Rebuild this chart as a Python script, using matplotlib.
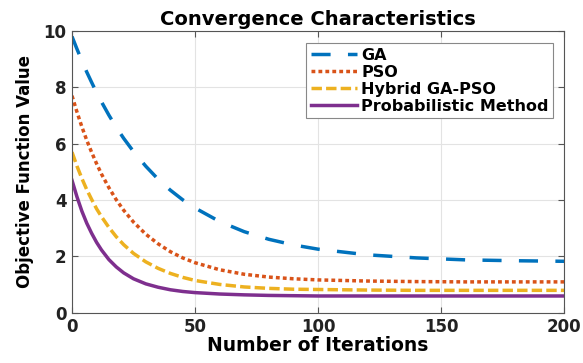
import matplotlib
matplotlib.use('Agg')
import matplotlib.pyplot as plt

plt.rcParams['font.family'] = ['DejaVu Sans']
plt.rcParams['font.weight'] = 'bold'

# Values
iterations = [0, 2, 4, 6, 8, 10, 12, 15, 18, 21, 25, 30, 35, 40, 45, 50,
              60, 70, 80, 90, 100, 120, 140, 160, 180, 200]
ga = [9.80, 9.36, 8.94, 8.54, 8.17, 7.81, 7.48, 7.01, 6.58, 6.19, 5.72, 5.20,
      4.74, 4.35, 4.01, 3.72, 3.24, 2.88, 2.61, 2.41, 2.26, 2.06, 1.95, 1.88,
      1.85, 1.83]
pso = [7.70, 7.13, 6.60, 6.12, 5.69, 5.29, 4.92, 4.44, 4.01, 3.64, 3.22, 2.79,
       2.45, 2.17, 1.95, 1.78, 1.53, 1.37, 1.27, 1.21, 1.17, 1.13, 1.11, 1.10,
       1.10, 1.10]
hybrid = [5.70, 5.21, 4.77, 4.37, 4.02, 3.69, 3.41, 3.03, 2.70, 2.42, 2.11,
          1.81, 1.58, 1.40, 1.26, 1.15, 1.01, 0.92, 0.87, 0.84, 0.83, 0.81,
          0.80, 0.80, 0.80, 0.80]
prob = [4.70, 4.12, 3.61, 3.18, 2.82, 2.50, 2.23, 1.89, 1.63, 1.42, 1.21,
        1.03, 0.91, 0.82, 0.76, 0.72, 0.67, 0.64, 0.62, 0.61, 0.60, 0.60,
        0.60, 0.60, 0.60, 0.60]
labels = ['GA', 'PSO', 'Hybrid GA-PSO', 'Probabilistic Method']

fig = plt.figure(figsize=(5.83, 3.63), dpi=100)
ax = fig.add_axes([0.1235, 0.138, 0.844, 0.777])

lw = 2.5
ax.plot(iterations, ga, color='#0072BD', lw=lw, dashes=(5.5, 5), label=labels[0])
ax.plot(iterations, pso, color='#D95319', lw=lw, dashes=(1.1, 0.9), label=labels[1])
ax.plot(iterations, hybrid, color='#EDB120', lw=lw, dashes=(3, 1.2), label=labels[2])
ax.plot(iterations, prob, color='#7E2F8E', lw=lw, label=labels[3])

ax.set_xlim(0, 200)
ax.set_ylim(0, 10)
ax.set_xticks([0, 50, 100, 150, 200])
ax.set_yticks([0, 2, 4, 6, 8, 10])
ax.grid(True, color='#e3e3e3', lw=0.8)
ax.set_axisbelow(True)
ax.tick_params(direction='in', top=True, right=True, labelsize=12,
               color='#555555', length=4, pad=4, labelcolor='#222222')
for s in ax.spines.values():
    s.set_edgecolor('#555555')

ax.set_title('Convergence Characteristics', fontsize=14, fontweight='bold', pad=4)
ax.set_xlabel('Number of Iterations', fontsize=13.5, fontweight='bold', labelpad=0)
ax.set_ylabel('Objective Function Value', fontsize=12, fontweight='bold', labelpad=7)

leg = ax.legend(loc='upper right', bbox_to_anchor=(0.985, 0.968), fontsize=11.5,
                fancybox=False, framealpha=1, edgecolor='#888888',
                handlelength=2.9, handletextpad=0.25, borderpad=0.3,
                labelspacing=0.12, borderaxespad=0.2)
leg.get_frame().set_linewidth(0.8)

fig.savefig('out.png', dpi=100)
